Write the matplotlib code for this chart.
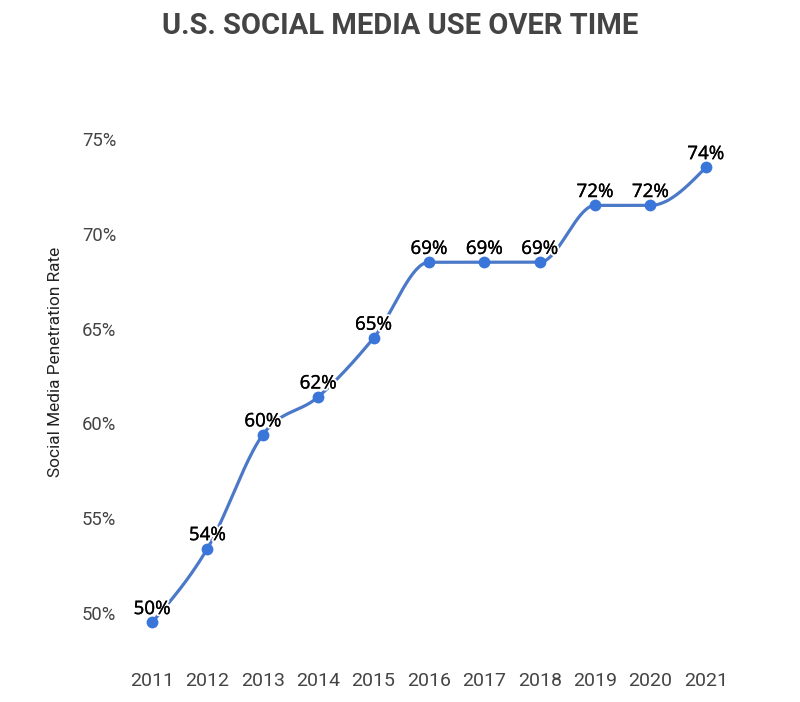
import numpy as np
import matplotlib
matplotlib.use("Agg")
import matplotlib.pyplot as plt
import matplotlib.patheffects as pe

years = [2011, 2012, 2013, 2014, 2015, 2016, 2017, 2018, 2019, 2020, 2021]
rates = [49.5, 53.4, 59.4, 61.4, 64.5, 68.5, 68.5, 68.5, 71.5, 71.5, 73.5]
labels = ["50%", "54%", "60%", "62%", "65%", "69%", "69%", "69%", "72%", "72%", "74%"]
yticks = [50, 55, 60, 65, 70, 75]
ytick_labels = ["50%", "55%", "60%", "65%", "70%", "75%"]
title = "U.S. SOCIAL MEDIA USE OVER TIME"
ylabel = "Social Media Penetration Rate"


def monotone_curve(x, y, n=40):
    x = np.asarray(x, float)
    y = np.asarray(y, float)
    m = len(x)
    t = np.zeros(m)
    s = np.diff(y) / np.diff(x)
    h = np.diff(x)
    for i in range(1, m - 1):
        s0, s1 = s[i - 1], s[i]
        p = (s0 * h[i] + s1 * h[i - 1]) / (h[i - 1] + h[i])
        t[i] = (np.sign(s0) + np.sign(s1)) * min(abs(s0), abs(s1), 0.5 * abs(p))
    t[0] = (3 * s[0] - t[1]) / 2
    t[-1] = (3 * s[-1] - t[-2]) / 2
    xs, ys = [], []
    for i in range(m - 1):
        u = np.linspace(0, 1, n)
        dx = h[i]
        h00 = 2 * u**3 - 3 * u**2 + 1
        h10 = u**3 - 2 * u**2 + u
        h01 = -2 * u**3 + 3 * u**2
        h11 = u**3 - u**2
        xs.append(x[i] + u * dx)
        ys.append(h00 * y[i] + h10 * dx * t[i] + h01 * y[i + 1] + h11 * dx * t[i + 1])
    return np.concatenate(xs), np.concatenate(ys)


W, H = 800, 702
fig = plt.figure(figsize=(W / 100, H / 100), dpi=100)
fig.patch.set_facecolor("white")

left, right = 118.8, 739.0
top, bottom = 110.6, 650.9
ax = fig.add_axes([left / W, 1 - bottom / H, (right - left) / W, (bottom - top) / H])
ax.set_xlim(2010.4, 2021.6)
ax.set_ylim(48, 76.5)

cx, cy = monotone_curve(years, rates)
ax.plot(cx, cy, color="#4B79C8", lw=2.3, zorder=2, solid_capstyle="round")

for xv, yv, lab in zip(years, rates, labels):
    ax.annotate(lab, (xv, yv), xytext=(0, 6), textcoords="offset points",
                ha="center", va="baseline", fontsize=13.5, color="black",
                family=["Noto Sans", "DejaVu Sans"], zorder=3,
                path_effects=[pe.Stroke(linewidth=3, foreground="white"),
                              pe.Stroke(linewidth=0.15, foreground="black"),
                              pe.Normal()])

ax.plot(years, rates, "o", color="#3A76DA", ms=8.5, zorder=4, mew=0.0)

ax.set_yticks(yticks)
ax.set_yticklabels(ytick_labels)
ax.set_xticks(years)
ax.set_xticklabels([str(y) for y in years])
ax.tick_params(axis="both", length=0, labelcolor="#444444")
ax.tick_params(axis="y", pad=2, labelsize=13.3)
ax.tick_params(axis="x", pad=15, labelsize=14)
for lbl in ax.get_xticklabels() + ax.get_yticklabels():
    lbl.set_family("Roboto")
for sp in ax.spines.values():
    sp.set_visible(False)

fig.text(55 / W, 1 - 362 / H, ylabel, rotation=90, ha="center", va="center",
         fontsize=12.4, color="#222222", family="Roboto")
fig.text(0.5, 1 - 26 / H, title, ha="center", va="center", fontsize=21,
         fontweight="bold", color="#444444", family="Roboto")

fig.savefig("out.png", dpi=100, facecolor="white")
